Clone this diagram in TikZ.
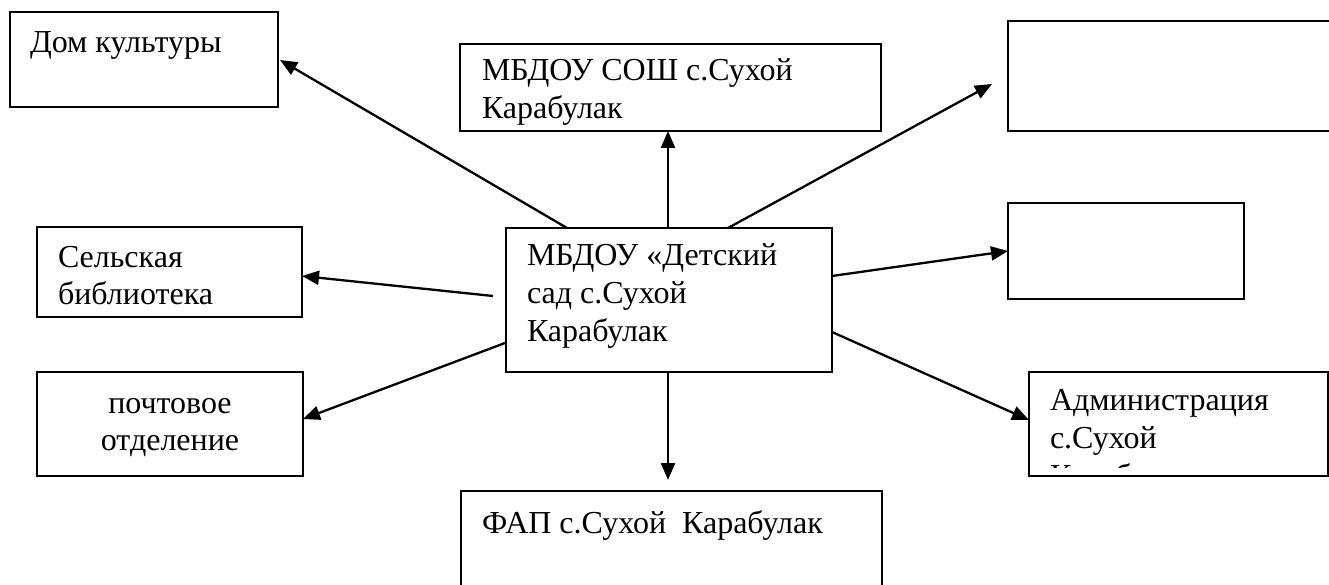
\documentclass[tikz,border=0pt]{standalone}
\usepackage{fontspec}
\setmainfont{Liberation Serif}
\usetikzlibrary{arrows.meta,calc}
\begin{document}
\begin{tikzpicture}[x=1pt,y=-1pt,
  box/.style={draw, line width=1.9pt, inner sep=0pt, outer sep=0pt, anchor=north west},
  conn/.style={line width=2.3pt, -{Triangle[length=17pt,width=14pt]}},
  lbl/.style={font=\fontsize{32}{38}\selectfont, anchor=base west, inner sep=0pt, outer sep=0pt, align=left},
  clbl/.style={font=\fontsize{32}{37}\selectfont, anchor=base, inner sep=0pt, outer sep=0pt, align=center}]
\useasboundingbox (0,0) rectangle (1329,585);
\fill[white] (0,0) rectangle (1329,585);

% boxes
\node[box, minimum width=268pt, minimum height=95pt]  (dk)   at (10,12)   {};
\node[box, minimum width=421pt, minimum height=87pt]  (sosh) at (460,44)  {};
\node[box, minimum width=340pt, minimum height=110pt] (tr)   at (1008,21) {};
\node[box, minimum width=236pt, minimum height=96pt]  (mr)   at (1008,203){};
\node[box, minimum width=265pt, minimum height=90pt]  (sb)   at (37,227)  {};
\node[box, minimum width=326pt, minimum height=144pt] (ctr)  at (506,228) {};
\node[box, minimum width=266pt, minimum height=104pt] (po)   at (37,372)  {};
\node[box, minimum width=299pt, minimum height=104pt] (adm)  at (1029,372){};
\node[box, minimum width=421pt, minimum height=120pt] (fap)  at (461,491) {};

% texts (base anchor = baseline of the last line)
\node[lbl] (tdk) at ($(dk.north west)+(20,41)$) {Дом культуры};
\begin{scope}
  \clip ($(sosh.north west)+(1,1)$) rectangle ($(sosh.south east)+(-1,-5)$);
  \node[lbl] (tsosh) at ($(sosh.north west)+(22,75)$) {МБДОУ СОШ с.Сухой\\Карабулак};
\end{scope}
\node[lbl] (tctr) at ($(ctr.north west)+(21,113)$) {МБДОУ «Детский\\сад с.Сухой\\Карабулак};
\node[lbl, font=\fontsize{32}{37}\selectfont] (tsb) at ($(sb.north west)+(21,77)$) {Сельская\\библиотека};
\node[clbl] (tpo) at ($(po.north)+(0,78)$) {почтовое\\отделение};
\begin{scope}
  \clip (adm.north west) rectangle ($(adm.north east)+(0,95)$);
  \node[lbl] (tadm) at ($(adm.north west)+(21,114)$) {Администрация\\с.Сухой\\Карабулак};
\end{scope}
\begin{scope}
  \clip (fap.north west) rectangle (fap.south east);
  \node[lbl] (tfap) at ($(fap.north west)+(21,42)$) {ФАП с.Сухой\ \ Карабулак};
\end{scope}

% connector end points
\coordinate (s1) at ($(ctr.north west)+(61,0)$);
\coordinate (e1) at ($(dk.north east)+(2,48)$);
\coordinate (s2) at ($(ctr.north west)+(162,0)$);
\coordinate (e2) at ($(sosh.south west)+(208,0)$);
\coordinate (s3) at ($(ctr.north west)+(222,0)$);
\coordinate (e3) at ($(tr.north west)+(-16,63)$);
\coordinate (s4) at ($(ctr.north east)+(0,48)$);
\coordinate (e4) at ($(mr.north west)+(0,48)$);
\coordinate (s5) at ($(ctr.north east)+(0,104)$);
\coordinate (e5) at ($(adm.north west)+(0,48)$);
\coordinate (s6) at ($(ctr.south west)+(162,0)$);
\coordinate (e6) at ($(fap.north west)+(207,-11)$);
\coordinate (s7) at ($(ctr.north west)+(-1,115)$);
\coordinate (e7) at ($(po.north east)+(0,47)$);
\coordinate (s8) at ($(ctr.north west)+(-13,68)$);
\coordinate (e8) at ($(sb.north east)+(0,49)$);

\draw[conn] (s1) -- (e1);
\draw[conn] (s2) -- (e2);
\draw[conn] (s3) -- (e3);
\draw[conn] (s4) -- (e4);
\draw[conn] (s5) -- (e5);
\draw[conn] (s6) -- (e6);
\draw[conn] (s7) -- (e7);
\draw[conn] (s8) -- (e8);
\end{tikzpicture}
\end{document}
